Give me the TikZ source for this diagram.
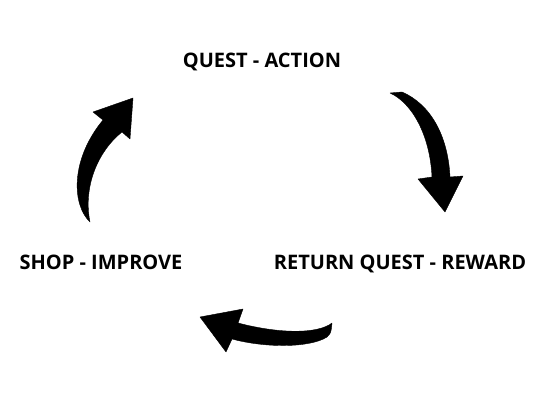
\documentclass[tikz,border=0pt]{standalone}
\usepackage{fontspec}
\setmainfont{Open Sans}
\tikzset{
        % label style for the three stages of the loop
        stage/.style={font=\bfseries\fontsize{20}{23}\selectfont, inner sep=0pt},
        % solid black bent arrow, drawn as one filled outline
        bentarrow/.style={fill=black, draw=black, line width=0.4pt, line join=round}
    }
\begin{document}
\begin{tikzpicture}[x=1pt,y=1pt,yscale=-1]
\useasboundingbox (0,0) rectangle (535,414);

% Text Node
\node [stage] (quest) at (262,62) {QUEST - ACTION};
% Text Node
\node [stage] (shop) at (101,262) {SHOP - IMPROVE};
% Text Node
\node [stage] (reward) at (400,264) {RETURN QUEST - REWARD};

%Curve Lines: quest -> reward
\path [bentarrow] (390,93) .. controls (412,103) and (430,135) .. (432,177) -- (418,179) -- (445,212) -- (463,176) -- (450,177) .. controls (448,135) and (430,104) .. (402,92) -- cycle;
%Curve Lines: reward -> shop
\path [bentarrow] (332,323) .. controls (318,334) and (280,334) .. (238,323) -- (243,309) -- (200,317) -- (226,352) -- (232,339) .. controls (265,348) and (310,348) .. (327,337) .. controls (331,333) .. (332,323) -- cycle;
%Curve Lines: shop -> quest
\path [bentarrow] (90,222) .. controls (72,205) and (70,160) .. (103,120) -- (93,112) -- (133,98) -- (130,139) -- (122,132) .. controls (97,152) and (83,188) .. (90,222) -- cycle;

\end{tikzpicture}
\end{document}
